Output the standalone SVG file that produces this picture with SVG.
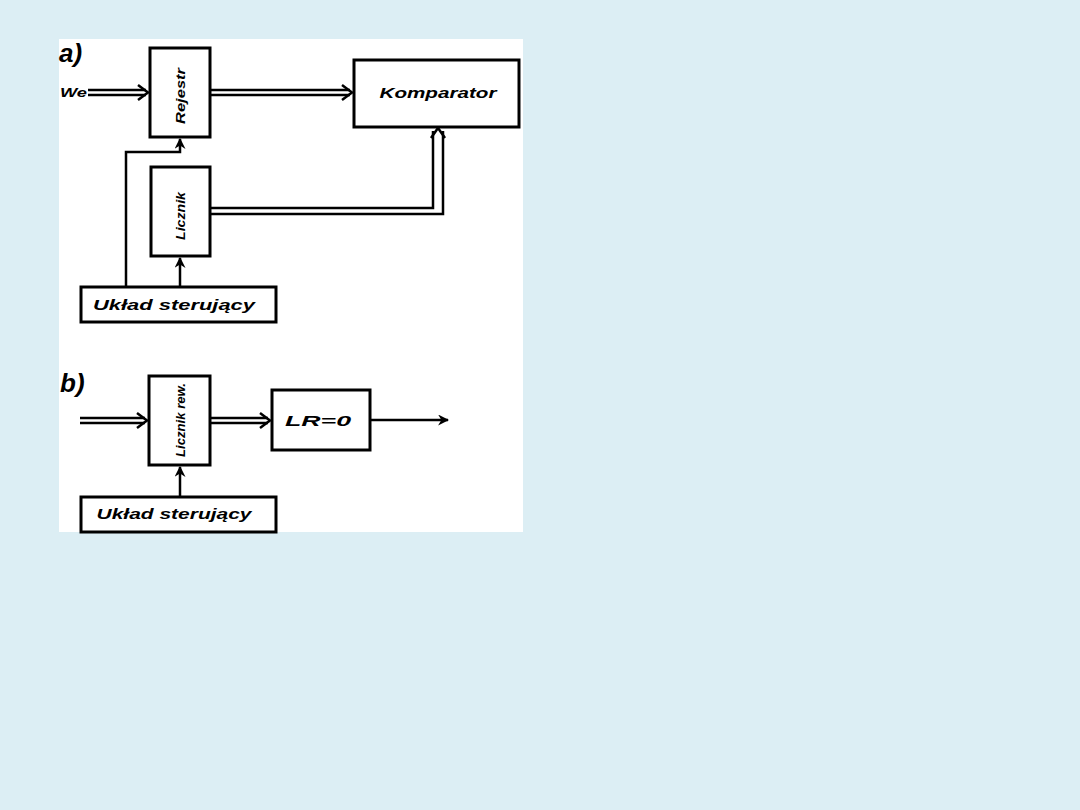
<svg xmlns="http://www.w3.org/2000/svg" width="1080" height="810" viewBox="0 0 1080 810">
<defs>
<style>
.box{fill:#fff;stroke:#000;stroke-width:3}
.ln{fill:none;stroke:#000;stroke-width:2.5}
.t{font-family:"Liberation Sans",Arial,sans-serif;font-style:italic;font-weight:bold;fill:#000}
</style>
<marker id="ah" viewBox="0 0 10 10" refX="9" refY="5" markerWidth="11" markerHeight="11" orient="auto" markerUnits="userSpaceOnUse">
<path d="M0,0 L10,5 L0,10 L3,5 Z" fill="#000"/>
</marker>
</defs>
<rect x="0" y="0" width="1080" height="810" fill="#DCEEF4"/>
<rect x="59" y="39" width="464" height="493" fill="#fff"/>
<text x="59" y="62" class="t" font-size="26" font-weight="normal">a)</text>
<text x="60" y="392" class="t" font-size="26" font-weight="normal">b)</text>
<g id="connectors">
<text x="60" y="97" class="t" font-size="13" textLength="27" lengthAdjust="spacingAndGlyphs">We</text>
<path class="ln" d="M88,90 H146 M88,95 H146"/>
<path class="ln" d="M138,85 L148,92.5 L138,100"/>
<path class="ln" d="M210,90 H350 M210,95 H350"/>
<path class="ln" d="M342,85 L352,92.5 L342,100"/>
<path class="ln" d="M210,208 H433 V131 M210,214 H443 V131"/>
<path class="ln" d="M431,138 L438,128 L445,138"/>
<path class="ln" d="M126,286 V152 H180 V139" marker-end="url(#ah)"/>
<path class="ln" d="M180,286 V258" marker-end="url(#ah)"/>
<path class="ln" d="M80,418 H145 M80,423 H145"/>
<path class="ln" d="M137,413 L147,420.5 L137,428"/>
<path class="ln" d="M210,418 H268 M210,423 H268"/>
<path class="ln" d="M260,413 L270,420.5 L260,428"/>
<path class="ln" d="M370,420 H448" marker-end="url(#ah)"/>
<path class="ln" d="M180,496 V467" marker-end="url(#ah)"/>
</g>
<g id="rejestr">
<rect class="box" x="150" y="48" width="60" height="89"/>
<text class="t" font-size="13" text-anchor="middle" textLength="56" lengthAdjust="spacingAndGlyphs" transform="translate(185,96) rotate(-90)">Rejestr</text>
</g>
<g id="komparator">
<rect class="box" x="354" y="60" width="165" height="67"/>
<text class="t" font-size="14" x="438" y="98" text-anchor="middle" textLength="117" lengthAdjust="spacingAndGlyphs">Komparator</text>
</g>
<g id="licznik">
<rect class="box" x="151" y="167" width="59" height="89"/>
<text class="t" font-size="13" text-anchor="middle" textLength="48" lengthAdjust="spacingAndGlyphs" transform="translate(185,216) rotate(-90)">Licznik</text>
</g>
<g id="uklad-a">
<rect class="box" x="81" y="287" width="195" height="35"/>
<text class="t" font-size="15" x="174" y="310" text-anchor="middle" textLength="162" lengthAdjust="spacingAndGlyphs">Układ sterujący</text>
</g>
<g id="licznik-rew">
<rect class="box" x="149" y="376" width="61" height="89"/>
<text class="t" font-size="13" text-anchor="middle" textLength="74" lengthAdjust="spacingAndGlyphs" transform="translate(185,420) rotate(-90)">Licznik rew.</text>
</g>
<g id="lr0">
<rect class="box" x="272" y="390" width="98" height="60"/>
<text class="t" font-size="15" x="318" y="426" text-anchor="middle" textLength="66" lengthAdjust="spacingAndGlyphs">LR=0</text>
</g>
<g id="uklad-b">
<rect class="box" x="81" y="497" width="195" height="35"/>
<text class="t" font-size="15" x="174" y="519" text-anchor="middle" textLength="155" lengthAdjust="spacingAndGlyphs">Układ sterujący</text>
</g>
</svg>
